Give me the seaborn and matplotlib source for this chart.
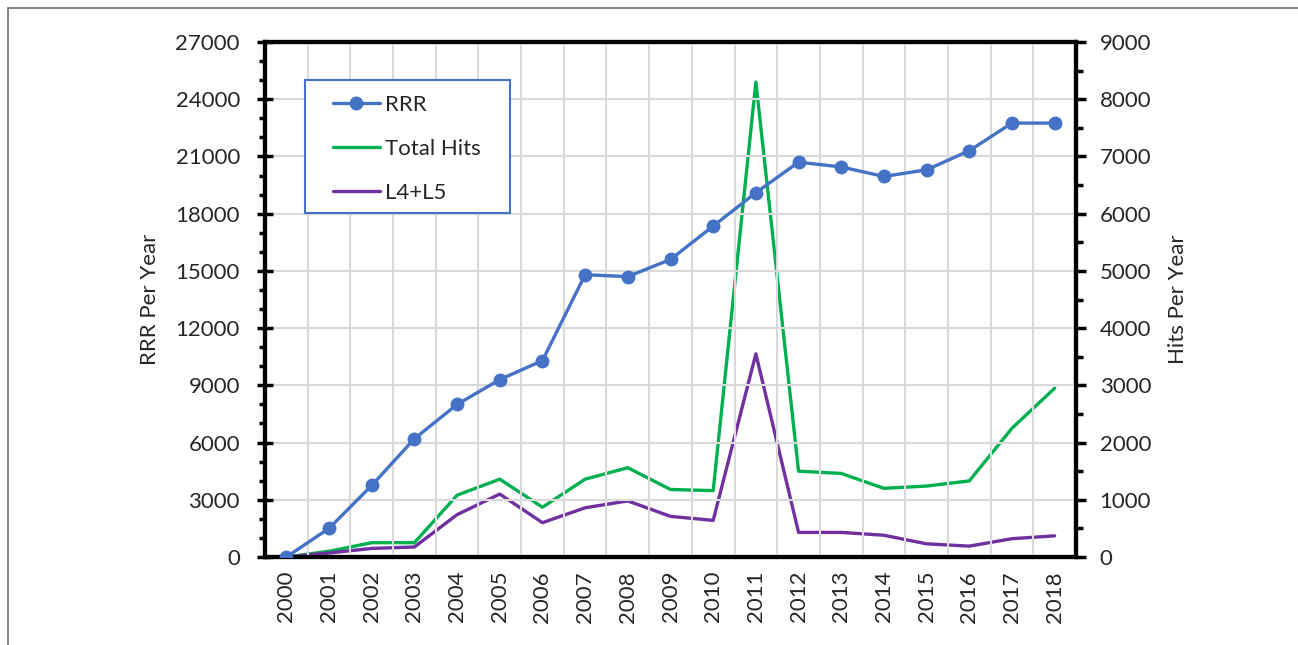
import matplotlib
matplotlib.use("Agg")
import matplotlib.pyplot as plt
from matplotlib.lines import Line2D
from matplotlib.patches import Rectangle
from matplotlib.ticker import MultipleLocator
import seaborn as sns
import pandas as pd

years = [str(y) for y in range(2000, 2019)]
rrr = [0, 1500, 3750, 6200, 8000, 9300, 10300, 14800, 14700, 15600,
       17350, 19100, 20700, 20450, 19950, 20300, 21300, 22750, 22750]
total_hits = [0, 100, 250, 250, 1080, 1360, 870, 1360, 1560, 1180,
              1160, 8300, 1500, 1460, 1200, 1240, 1330, 2250, 2950]
l4_l5 = [0, 70, 150, 175, 740, 1100, 600, 860, 980, 710,
         640, 3550, 430, 430, 380, 230, 190, 320, 370]

BLUE = "#4472C4"
GREEN = "#00B050"
PURPLE = "#7030A0"

W, H = 1298, 645

sns.set_theme(style="white")
plt.rcParams["font.family"] = ["Lato", "DejaVu Sans"]

df = pd.DataFrame({"idx": range(len(years)), "year": years,
                   "rrr": rrr, "hits": total_hits, "l45": l4_l5})

fig = plt.figure(figsize=(W / 100, H / 100), dpi=100)
ax = fig.add_axes([265 / W, 1 - 557 / H, (1076 - 265) / W, (557 - 42) / H])
ax2 = ax.twinx()

sns.lineplot(data=df, x="idx", y="hits", ax=ax2, color=GREEN, linewidth=2.4, zorder=3)
sns.lineplot(data=df, x="idx", y="l45", ax=ax2, color=PURPLE, linewidth=2.4, zorder=3)
sns.lineplot(data=df, x="idx", y="rrr", ax=ax, color=BLUE, linewidth=2.4,
             marker="o", markersize=10, markeredgewidth=0, zorder=4)

# draw the left axis (with RRR) above the twin axis
ax.set_zorder(ax2.get_zorder() + 1)
ax.patch.set_visible(False)

ax.set_xlim(-0.5, len(years) - 0.5)
ax.set_ylim(0, 27000)
ax2.set_ylim(0, 9000)

ax.set_xticks(range(len(years)))
ax.set_xticklabels(years, rotation=90, fontsize=16)
ax.tick_params(axis="x", length=0, pad=10)
ax.xaxis.set_minor_locator(MultipleLocator(1, offset=0.5))
ax.tick_params(axis="x", which="minor", length=0)

ax.yaxis.set_major_locator(MultipleLocator(3000))
ax.yaxis.set_minor_locator(MultipleLocator(1000))
ax.tick_params(axis="y", which="major", direction="inout", length=12, width=2.5,
               labelsize=16, color="black", left=True, pad=12)
ax.tick_params(axis="y", which="minor", direction="out", length=4, width=2.5,
               color="black", left=True)

ax2.yaxis.set_major_locator(MultipleLocator(1000))
ax2.yaxis.set_minor_locator(MultipleLocator(500))
ax2.tick_params(axis="y", which="major", direction="out", length=7, width=2.5,
                labelsize=16, color="black", right=True, pad=10)
ax2.tick_params(axis="y", which="minor", direction="out", length=5, width=2.5,
                color="black", right=True)

ax.grid(False)
ax2.grid(False)
ax.grid(True, axis="y", which="major", color="#D9D9D9", linewidth=1.5)
ax.grid(True, axis="x", which="minor", color="#D9D9D9", linewidth=1.5)
ax.set_axisbelow(True)

for a in (ax, ax2):
    for s in a.spines.values():
        s.set_color("black")
        s.set_linewidth(3)

ax.set_xlabel("")
ax.set_ylabel("")
ax2.set_xlabel("")
ax2.set_ylabel("")
fig.text(150 / W, 1 - 299 / H, "RRR Per Year", rotation=90, fontsize=16,
         ha="center", va="center")
fig.text(1178 / W, 1 - 299 / H, "Hits Per Year", rotation=90, fontsize=16,
         ha="center", va="center")

# legend box
box = Rectangle((305 / W, 1 - 213 / H), (510 - 305) / W, (213 - 80) / H,
                transform=fig.transFigure, facecolor="white", edgecolor=BLUE,
                linewidth=1.5, zorder=9)
fig.add_artist(box)

handles = [
    Line2D([], [], color=BLUE, linewidth=2.4, marker="o", markersize=10, markeredgewidth=0),
    Line2D([], [], color=GREEN, linewidth=2.4),
    Line2D([], [], color=PURPLE, linewidth=2.4),
]
leg = fig.legend(handles, ["RRR", "Total Hits", "L4+L5"], loc="upper left",
                 bbox_to_anchor=(333 / W, 1 - 95 / H),
                 fontsize=16, frameon=False, borderpad=0,
                 labelspacing=1.08, handlelength=2.1, handletextpad=0.25,
                 borderaxespad=0)
leg.set_zorder(10)

# outer frame
fig.add_artist(Line2D([8 / W, 8 / W], [0, 1 - 8 / H], transform=fig.transFigure,
                      color="#707070", linewidth=1.2))
fig.add_artist(Line2D([8 / W, 1], [1 - 8 / H, 1 - 8 / H], transform=fig.transFigure,
                      color="#707070", linewidth=1.2))

fig.savefig("out.png", dpi=100, facecolor="white")
